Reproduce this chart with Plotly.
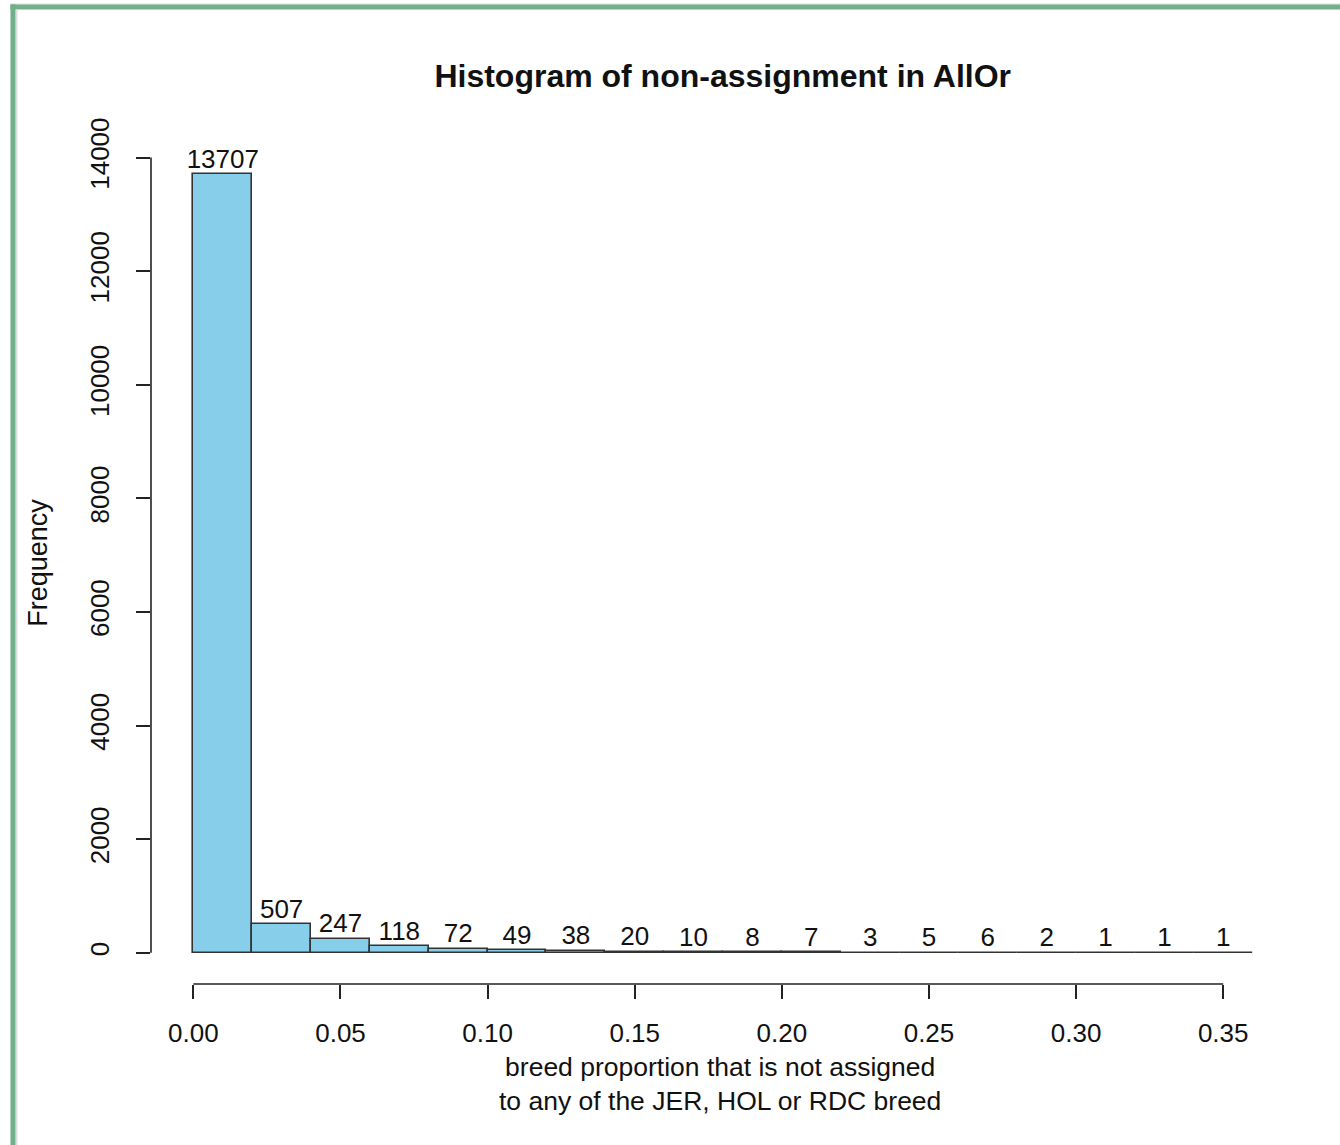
import plotly.graph_objects as go

# ---- data ----
bin_left = [0.00, 0.02, 0.04, 0.06, 0.08, 0.10, 0.12, 0.14, 0.16,
            0.18, 0.20, 0.22, 0.24, 0.26, 0.28, 0.30, 0.32, 0.34]
bin_width = 0.02
counts = [13707, 507, 247, 118, 72, 49, 38, 20, 10, 8, 7, 3, 5, 6, 2, 1, 1, 1]
x_ticks = [0.00, 0.05, 0.10, 0.15, 0.20, 0.25, 0.30, 0.35]
y_ticks = [0, 2000, 4000, 6000, 8000, 10000, 12000, 14000]
title_text = "Histogram of non-assignment in AllOr"
x_title = ["breed proportion that is not assigned", "to any of the JER, HOL or RDC breed"]
y_title = "Frequency"

centers = [b + bin_width / 2 for b in bin_left]

# ---- layout geometry (page pixels; body margin removed via post_script) ----
W, H = 1340, 1145
L, R, T, B = 150.6, 1295.0, 142.5, 984.0


def pxx(px):
    return (px - L) / (R - L)


def pxy(py):
    return (B - py) / (B - T)


FONT = "Liberation Sans, Arial, sans-serif"
FS = 26

xmin, xmax = bin_left[0], bin_left[-1] + bin_width
ymax = max(counts)
xpad = (xmax - xmin) * 0.04
ypad = ymax * 0.04

fig = go.Figure()
fig.add_trace(go.Bar(
    x=centers, y=counts, width=bin_width,
    marker=dict(color="#87CEEB", line=dict(color="#333333", width=1.6)),
    hoverinfo="x+y", showlegend=False,
))
fig.add_trace(go.Scatter(
    x=centers, y=counts, mode="text", text=[str(c) for c in counts],
    textposition="top center", textfont=dict(family=FONT, size=FS, color="#111111"),
    cliponaxis=False, showlegend=False, hoverinfo="skip",
))

shapes = []
# detached R-style axis lines
shapes.append(dict(type="line", xref="paper", yref="y", x0=0, x1=0,
                   y0=y_ticks[0], y1=y_ticks[-1], line=dict(color="#222222", width=1.6)))
shapes.append(dict(type="line", xref="x", yref="paper", x0=x_ticks[0], x1=x_ticks[-1],
                   y0=0, y1=0, line=dict(color="#222222", width=1.6)))
# green frame of the screenshot
shapes.append(dict(type="rect", xref="paper", yref="paper", layer="above",
                   x0=pxx(10), x1=pxx(1345), y0=pxy(3), y1=pxy(4),
                   fillcolor="#d5ddd7", line=dict(width=0)))
shapes.append(dict(type="rect", xref="paper", yref="paper", layer="above",
                   x0=pxx(10), x1=pxx(1345), y0=pxy(4), y1=pxy(9),
                   fillcolor="#70B088", line=dict(width=0)))
shapes.append(dict(type="rect", xref="paper", yref="paper", layer="above",
                   x0=pxx(15), x1=pxx(17), y0=pxy(9), y1=pxy(1150),
                   fillcolor="#dcdcdc", line=dict(width=0)))
shapes.append(dict(type="rect", xref="paper", yref="paper", layer="above",
                   x0=pxx(10), x1=pxx(15), y0=pxy(4), y1=pxy(1150),
                   fillcolor="#70B088", line=dict(width=0)))

annotations = [
    dict(text="<br>".join(x_title), xref="paper", yref="paper", x=pxx(720), y=pxy(1084),
         xanchor="center", yanchor="middle", showarrow=False,
         font=dict(family=FONT, size=26.5, color="#111111")),
    dict(text=y_title, xref="paper", yref="paper", x=pxx(38), y=pxy(562), textangle=-90,
         xanchor="center", yanchor="middle", showarrow=False,
         font=dict(family=FONT, size=27, color="#111111")),
]

fig.update_layout(
    width=W, height=H,
    margin=dict(l=L, r=W - R, t=T, b=H - B, pad=0),
    paper_bgcolor="white", plot_bgcolor="white",
    bargap=0,
    title=dict(text="<b>" + title_text + "</b>", x=pxx(722.5), xref="paper", xanchor="center",
               y=1 - 76 / H, yref="container", yanchor="middle",
               font=dict(family=FONT, size=32, color="#111111")),
    font=dict(family=FONT, size=FS, color="#111111"),
    xaxis=dict(range=[xmin - xpad, xmax + xpad], tickvals=x_ticks, tickformat=".2f",
               ticks="outside", ticklen=14, tickwidth=1.6, tickcolor="#222222",
               ticklabelstandoff=12,
               showline=False, showgrid=False, zeroline=False,
               tickfont=dict(family=FONT, size=FS, color="#111111")),
    yaxis=dict(range=[-ypad, ymax + ypad], tickvals=y_ticks,
               ticktext=[str(v) for v in y_ticks], tickangle=-90,
               ticks="outside", ticklen=14, tickwidth=1.6, tickcolor="#222222",
               ticklabelstandoff=17,
               showline=False, showgrid=False, zeroline=False,
               tickfont=dict(family=FONT, size=FS, color="#111111")),
    shapes=shapes,
    annotations=annotations,
)

fig.write_html("out.html", config={"displayModeBar": False},
               post_script="document.body.style.margin='0';document.body.style.overflow='hidden';")
